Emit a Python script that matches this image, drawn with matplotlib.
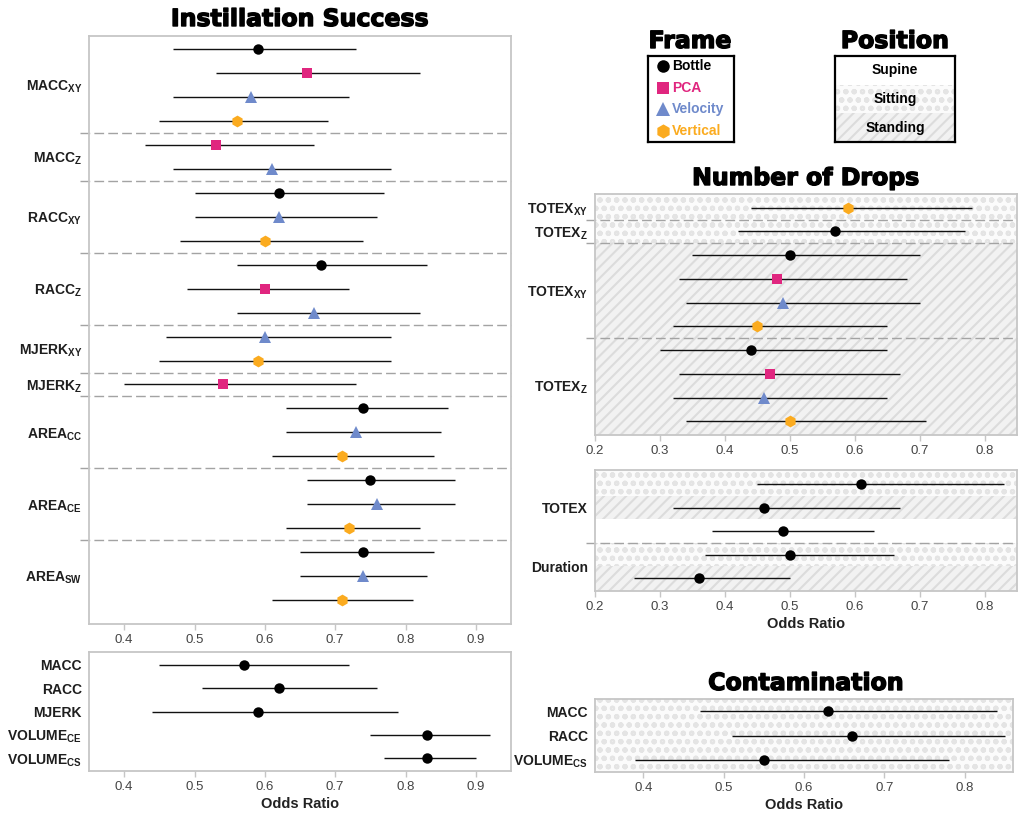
import numpy as np
import matplotlib
matplotlib.use('Agg')
import matplotlib.pyplot as plt
import matplotlib.patheffects as pe

plt.rcParams['font.family'] = ['Liberation Sans', 'DejaVu Sans']
plt.rcParams['mathtext.fontset'] = 'custom'
plt.rcParams['mathtext.bf'] = 'Liberation Sans:bold'
plt.rcParams['mathtext.rm'] = 'Liberation Sans'
plt.rcParams['hatch.linewidth'] = 1.5

# marker, colour, size for each reference frame
FRAMES = {
    'Bottle':   ('o', '#000000', 7.5),
    'PCA':      ('s', '#e0267f', 6.8),
    'Velocity': ('^', '#6f8acb', 8.0),
    'Vertical': ('h', '#fbab1f', 8.5),
}
# background fill per body position
POSITIONS = {
    'Supine':   dict(facecolor='white', hatch=None, edgecolor='white'),
    'Sitting':  dict(facecolor='#fbfbfb', hatch='oo', edgecolor='#e4e4e4'),
    'Standing': dict(facecolor='#f2f2f2', hatch='///', edgecolor='#dcdcdc'),
}

# ---- Instillation success, per-frame models
succ_names = ['MACC', 'MACC', 'RACC', 'RACC', 'MJERK', 'MJERK', 'AREA', 'AREA', 'AREA']
succ_subs = ['XY', 'Z', 'XY', 'Z', 'XY', 'Z', 'CC', 'CE', 'SW']
succ_sizes = [4, 2, 3, 3, 2, 1, 3, 3, 3]
succ_frame = ['Bottle', 'PCA', 'Velocity', 'Vertical',
              'PCA', 'Velocity',
              'Bottle', 'Velocity', 'Vertical',
              'Bottle', 'PCA', 'Velocity',
              'Velocity', 'Vertical',
              'PCA',
              'Bottle', 'Velocity', 'Vertical',
              'Bottle', 'Velocity', 'Vertical',
              'Bottle', 'Velocity', 'Vertical']
succ_or = [0.59, 0.66, 0.58, 0.56, 0.53, 0.61, 0.62, 0.62, 0.60, 0.68, 0.60, 0.67,
           0.60, 0.59, 0.54, 0.74, 0.73, 0.71, 0.75, 0.76, 0.72, 0.74, 0.74, 0.71]
succ_lo = [0.47, 0.53, 0.47, 0.45, 0.43, 0.47, 0.50, 0.50, 0.48, 0.56, 0.49, 0.56,
           0.46, 0.45, 0.40, 0.63, 0.63, 0.61, 0.66, 0.66, 0.63, 0.65, 0.65, 0.61]
succ_hi = [0.73, 0.82, 0.72, 0.69, 0.67, 0.78, 0.77, 0.76, 0.74, 0.83, 0.72, 0.82,
           0.78, 0.78, 0.73, 0.86, 0.85, 0.84, 0.87, 0.87, 0.82, 0.84, 0.83, 0.81]

# ---- Instillation success, summary metrics
succ2_names = ['MACC', 'RACC', 'MJERK', 'VOLUME', 'VOLUME']
succ2_subs = [None, None, None, 'CE', 'CS']
succ2_or = [0.57, 0.62, 0.59, 0.83, 0.83]
succ2_lo = [0.45, 0.51, 0.44, 0.75, 0.77]
succ2_hi = [0.72, 0.76, 0.79, 0.92, 0.90]

# ---- Number of drops, per-frame models
drops_names = ['TOTEX', 'TOTEX', 'TOTEX', 'TOTEX']
drops_subs = ['XY', 'Z', 'XY', 'Z']
drops_sizes = [1, 1, 4, 4]
drops_frame = ['Vertical', 'Bottle', 'Bottle', 'PCA', 'Velocity', 'Vertical',
               'Bottle', 'PCA', 'Velocity', 'Vertical']
drops_pos = ['Sitting', 'Sitting'] + ['Standing'] * 8
drops_or = [0.59, 0.57, 0.50, 0.48, 0.49, 0.45, 0.44, 0.47, 0.46, 0.50]
drops_lo = [0.44, 0.42, 0.35, 0.33, 0.34, 0.32, 0.30, 0.33, 0.32, 0.34]
drops_hi = [0.78, 0.77, 0.70, 0.68, 0.70, 0.65, 0.65, 0.67, 0.65, 0.71]

# ---- Number of drops, summary metrics
drops2_names = ['TOTEX', 'Duration']
drops2_sizes = [3, 2]
drops2_pos = ['Sitting', 'Standing', 'Supine', 'Sitting', 'Standing']
drops2_or = [0.61, 0.46, 0.49, 0.50, 0.36]
drops2_lo = [0.45, 0.32, 0.38, 0.37, 0.26]
drops2_hi = [0.83, 0.67, 0.63, 0.66, 0.50]

# ---- Contamination
cont_names = ['MACC', 'RACC', 'VOLUME']
cont_subs = [None, None, 'CS']
cont_pos = ['Sitting', 'Sitting', 'Sitting']
cont_or = [0.63, 0.66, 0.55]
cont_lo = [0.47, 0.51, 0.39]
cont_hi = [0.84, 0.85, 0.78]


def label(name, sub):
    if sub is None:
        return name
    return r'$\mathbf{%s}_{\mathbf{%s}}$' % (name, sub)


def style_axes(ax, xlim, ylim, xticks):
    ax.set_xlim(*xlim)
    ax.set_ylim(*ylim)
    ax.set_xticks(xticks)
    ax.set_xticklabels(['%.1f' % t for t in xticks])
    for s in ax.spines.values():
        s.set_color('#c6c6c6')
        s.set_linewidth(1.3)
    ax.tick_params(axis='x', length=4, width=1, color='#c6c6c6',
                   labelsize=9.5, labelcolor='#444444', pad=3)
    ax.tick_params(axis='y', length=0, labelsize=10, labelcolor='#1e1e1e', pad=5)
    for t in ax.get_yticklabels():
        t.set_fontweight('bold')


def forest(ax, est, lo, hi, frames=None):
    y = np.arange(len(est))
    ax.hlines(y, lo, hi, color='#111111', lw=1.0, zorder=3)
    if frames is None:
        frames = ['Bottle'] * len(est)
    for f, (m, c, ms) in FRAMES.items():
        idx = [i for i, fr in enumerate(frames) if fr == f]
        if not idx:
            continue
        ax.plot(np.array(est)[idx], y[idx], ls='none', marker=m, color=c,
                ms=ms, mew=0, zorder=4)


def shade(ax, positions, ylim):
    n = len(positions)
    for i, p in enumerate(positions):
        st = POSITIONS[p]
        if st['hatch'] is None:
            continue
        top = min(ylim) if i == 0 else i - 0.5
        bot = max(ylim) if i == n - 1 else i + 0.5
        ax.axhspan(top, bot, facecolor=st['facecolor'], hatch=st['hatch'],
                   edgecolor=st['edgecolor'], lw=0, zorder=0)


def separators(ax, sizes):
    for b in np.cumsum(sizes)[:-1] - 0.5:
        ax.plot([-0.021, 1], [b, b], transform=ax.get_yaxis_transform(),
                color='#a3a3a3', lw=1.0, ls=(0, (7, 3)), clip_on=False, zorder=2)


def group_ticks(ax, names, subs, sizes):
    starts = np.concatenate([[0], np.cumsum(sizes)[:-1]])
    centers = starts + (np.array(sizes) - 1) / 2
    subs = subs if subs is not None else [None] * len(names)
    ax.set_yticks(centers)
    ax.set_yticklabels([label(n, s) for n, s in zip(names, subs)])


W, H = 1024, 819
fig = plt.figure(figsize=(W / 100, H / 100), dpi=100)


def px_axes(l, t, r, b):
    return fig.add_axes([l / W, 1 - b / H, (r - l) / W, (b - t) / H])


title_fx = [pe.withStroke(linewidth=1.0, foreground='black')]


def big_title(x, y, s):
    fig.text(x / W, 1 - y / H, s, ha='center', va='center', fontsize=17,
             fontweight='bold', family='DejaVu Sans', color='black',
             path_effects=title_fx)


# Instillation success (frames)
ax1 = px_axes(89, 36, 511, 624)
forest(ax1, succ_or, succ_lo, succ_hi, succ_frame)
separators(ax1, succ_sizes)
group_ticks(ax1, succ_names, succ_subs, succ_sizes)
style_axes(ax1, (0.35, 0.95), (24.0, -0.55), [0.4, 0.5, 0.6, 0.7, 0.8, 0.9])

# Instillation success (summary)
ax2 = px_axes(89, 652, 511, 771)
forest(ax2, succ2_or, succ2_lo, succ2_hi)
ax2.set_yticks(np.arange(len(succ2_names)))
ax2.set_yticklabels([label(n, s) for n, s in zip(succ2_names, succ2_subs)])
style_axes(ax2, (0.35, 0.95), (4.54, -0.54), [0.4, 0.5, 0.6, 0.7, 0.8, 0.9])
ax2.set_xlabel('Odds Ratio', fontsize=10.5, fontweight='bold', color='#222222', labelpad=3)

# Number of drops (frames)
ax3 = px_axes(595, 194, 1017, 435)
ylim3 = (9.58, -0.58)
shade(ax3, drops_pos, ylim3)
forest(ax3, drops_or, drops_lo, drops_hi, drops_frame)
separators(ax3, drops_sizes)
group_ticks(ax3, drops_names, drops_subs, drops_sizes)
style_axes(ax3, (0.2, 0.85), ylim3, [0.2, 0.3, 0.4, 0.5, 0.6, 0.7, 0.8])

# Number of drops (summary)
ax4 = px_axes(595, 470, 1017, 591)
ylim4 = (4.55, -0.6)
shade(ax4, drops2_pos, ylim4)
forest(ax4, drops2_or, drops2_lo, drops2_hi)
separators(ax4, drops2_sizes)
group_ticks(ax4, drops2_names, None, drops2_sizes)
style_axes(ax4, (0.2, 0.85), ylim4, [0.2, 0.3, 0.4, 0.5, 0.6, 0.7, 0.8])
ax4.set_xlabel('Odds Ratio', fontsize=10.5, fontweight='bold', color='#222222', labelpad=3)

# Contamination
ax5 = px_axes(595, 699, 1013, 772)
ylim5 = (2.5, -0.5)
shade(ax5, cont_pos, ylim5)
forest(ax5, cont_or, cont_lo, cont_hi)
ax5.set_yticks(np.arange(len(cont_names)))
ax5.set_yticklabels([label(n, s) for n, s in zip(cont_names, cont_subs)])
style_axes(ax5, (0.34, 0.86), ylim5, [0.4, 0.5, 0.6, 0.7, 0.8])
ax5.set_xlabel('Odds Ratio', fontsize=10.5, fontweight='bold', color='#222222', labelpad=3)

big_title(300, 19, 'Instillation Success')
big_title(806, 178, 'Number of Drops')
big_title(806, 683, 'Contamination')
big_title(690, 41, 'Frame')
big_title(895, 41, 'Position')

# Frame legend
lg1 = px_axes(648, 56, 734, 142)
lg1.set_xlim(0, 1)
lg1.set_ylim(0, 1)
for k, (f, (m, c, ms)) in enumerate(FRAMES.items()):
    yy = 0.885 - k * 0.252
    lg1.plot([0.175], [yy], ls='none', marker=m, color=c, ms=ms * 1.2, mew=0)
    lg1.text(0.28, yy, f, color=c, fontsize=10, fontweight='bold', va='center', ha='left')
lg1.set_xticks([])
lg1.set_yticks([])
for s in lg1.spines.values():
    s.set_linewidth(1.6)
    s.set_color('black')

# Position legend
lg2 = px_axes(835, 56, 955, 142)
lg2.set_xlim(0, 1)
lg2.set_ylim(3, 0)
for k, p in enumerate(POSITIONS):
    st = POSITIONS[p]
    if st['hatch'] is not None:
        lg2.axhspan(k, k + 1, facecolor=st['facecolor'], hatch=st['hatch'],
                    edgecolor=st['edgecolor'], lw=0, zorder=0)
    lg2.text(0.5, k + 0.5, p, ha='center', va='center', fontsize=10,
             fontweight='bold', color='black')
lg2.set_xticks([])
lg2.set_yticks([])
for s in lg2.spines.values():
    s.set_linewidth(1.6)
    s.set_color('black')

fig.savefig('out.png', dpi=100)
